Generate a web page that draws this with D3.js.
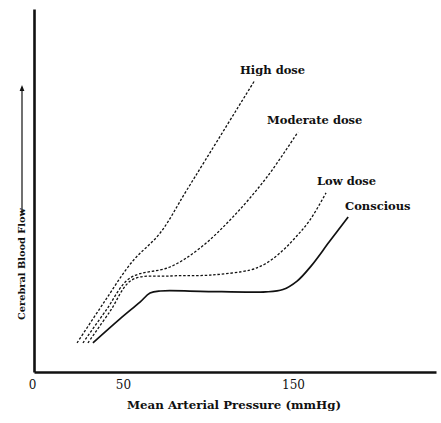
<!DOCTYPE html>
<html>
<head>
<meta charset="utf-8">
<script src="https://cdn.jsdelivr.net/npm/d3@7"></script>
<style>
  body { margin: 0; background: #fff; }
  text { font-family: "DejaVu Serif", serif; fill: #111; }
</style>
</head>
<body>
<svg id="chart" width="441" height="423"></svg>
<script>
// values (x: mean arterial pressure, y: relative flow units)
const tickValues = [0, 50, 150];

const conscious = [[33.1, 9.7], [48.3, 17.7], [60, 23.3], [65.9, 26.3], [72, 27], [95.3, 26.9], [134, 26.7], [144.1, 27.5], [152.4, 30.3], [160.6, 35.3], [171.2, 43.3], [182.4, 51.7]];
const lowDose = [[30.3, 9.7], [42.7, 20.2], [55.3, 30.7], [77.6, 32], [101.2, 32.3], [124.7, 34], [133.5, 36], [142.4, 39.7], [151.2, 44.7], [160, 50.7], [169.4, 59.7]];
const moderateDose = [[27.5, 9.7], [40.4, 20.5], [54.1, 31.3], [77.6, 35], [95.3, 41.3], [114.7, 51.7], [134.7, 65], [152.9, 80]];
const highDose = [[24.2, 9.7], [39.3, 23.2], [55.3, 36.7], [71.8, 46.3], [87.6, 60.7], [127.6, 97.3]];

const seriesNames = ["Conscious", "Low dose", "Moderate dose", "High dose"];
const seriesData = [conscious, lowDose, moderateDose, highDose];

const svg = d3.select("#chart");

// the printed axis is not quite linear, so use a piecewise scale
const x = d3.scaleLinear().domain([0, 50, 150, 234]).range([34, 123, 293, 436]);
const y = d3.scaleLinear().domain([0, 121]).range([372, 9]);

// x axis
const xAxis = svg.append("g")
  .attr("transform", "translate(0," + y(0) + ")")
  .call(d3.axisBottom(x).tickValues(tickValues).tickSize(0).tickPadding(8).tickFormat(d3.format("d")));
xAxis.select(".domain").attr("stroke", "#111").attr("stroke-width", 2.6);
xAxis.selectAll(".tick text")
  .attr("font-family", "DejaVu Serif").attr("font-size", 12).attr("fill", "#111");
xAxis.selectAll(".tick").filter(d => d === 0).select("text").attr("dx", -2);

// y axis
const yAxis = svg.append("g")
  .attr("transform", "translate(" + x(0) + ",0)")
  .call(d3.axisLeft(y).tickValues([]).tickSizeOuter(0));
yAxis.select(".domain").attr("stroke", "#111").attr("stroke-width", 2.6);

// axis titles
svg.append("text")
  .attr("x", 234).attr("y", 409)
  .attr("text-anchor", "middle")
  .attr("font-size", 11.8)
  .attr("font-weight", "bold")
  .text("Mean Arterial Pressure (mmHg)");

svg.append("text")
  .attr("transform", "translate(25,320) rotate(-90)")
  .attr("font-size", 9.8)
  .attr("font-weight", "bold")
  .text("Cerebral Blood Flow");

// arrow alongside the y title
svg.append("defs").append("marker")
  .attr("id", "arrow")
  .attr("viewBox", "0 0 10 10")
  .attr("refX", 5).attr("refY", 5)
  .attr("markerWidth", 5).attr("markerHeight", 5)
  .attr("orient", "auto")
  .append("path").attr("d", "M0,1 L10,5 L0,9 Z").attr("fill", "#111");

svg.append("line")
  .attr("x1", 22).attr("y1", 215)
  .attr("x2", 22).attr("y2", 88)
  .attr("stroke", "#111").attr("stroke-width", 1.2)
  .attr("marker-end", "url(#arrow)");

// curves
const line = d3.line()
  .x(d => x(d[0]))
  .y(d => y(d[1]))
  .curve(d3.curveCatmullRom.alpha(0.5));

svg.selectAll(".curve")
  .data(seriesData)
  .join("path")
  .attr("class", "curve")
  .attr("fill", "none")
  .attr("stroke", "#111")
  .attr("stroke-width", (d, i) => i === 0 ? 1.7 : 1.3)
  .attr("stroke-dasharray", (d, i) => i === 0 ? null : "2.5,1.8")
  .attr("d", line);

// curve labels, placed just above each curve's end
const labelPos = [[345, 210], [317, 185], [267, 124], [240, 74]];
svg.selectAll(".label")
  .data(seriesNames)
  .join("text")
  .attr("class", "label")
  .attr("x", (d, i) => labelPos[i][0])
  .attr("y", (d, i) => labelPos[i][1])
  .attr("font-size", 11.5)
  .attr("font-weight", "bold")
  .text(d => d);
</script>
</body>
</html>
